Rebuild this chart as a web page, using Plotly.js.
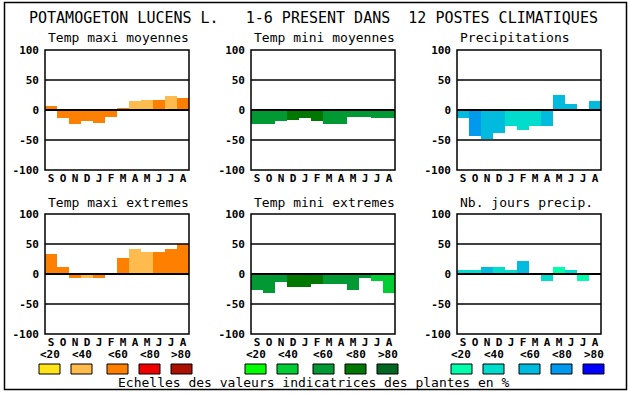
<!DOCTYPE html>
<html>
<head>
<meta charset="utf-8">
<script src="https://cdn.plot.ly/plotly-3.0.1.min.js"></script>
<style>html,body{margin:0;padding:0;background:#fff;}#chart{width:630px;height:394px;}</style>
</head>
<body>
<div id="chart"></div>
<script>
// ---- Data ----
const months = ["S","O","N","D","J","F","M","A","M","J","J","A"];
const mainTitle = "POTAMOGETON LUCENS L.\u00A0\u00A0\u00A01-6 PRESENT DANS\u00A0\u00A012 POSTES CLIMATIQUES";
const panelTitles = ["Temp maxi moyennes","Temp mini moyennes","Precipitations",
                     "Temp maxi extremes","Temp mini extremes","Nb. jours precip."];
const yTickVals = [-100,-50,0,50,100];
const yTickText = ["-100","-50","0","50","100"];
const classLabels = ["<20","<40","<60","<80",">80"];
const footer = "Echelles des valeurs indicatrices des plantes en %";

const tempMaxiMoy = [7,-13,-23,-18,-21,-11,3,15,17,17,23,20];
const tempMaxiMoyClass = [2,2,2,2,2,2,2,1,1,2,1,2];
const tempMiniMoy = [-23,-24,-18,-16,-13,-18,-24,-23,-11,-11,-13,-14];
const tempMiniMoyClass = [2,2,2,3,3,3,2,2,2,2,2,2];
const precip = [-14,-44,-49,-38,-26,-34,-26,-26,25,10,0,15];
const precipClass = [2,3,2,2,1,1,1,2,2,2,2,2];
const tempMaxiExt = [34,12,-6,-6,-7,2,26,42,37,36,42,50];
const tempMaxiExtClass = [2,2,2,1,2,2,2,1,1,2,2,2];
const tempMiniExt = [-27,-31,-14,-22,-22,-17,-16,-17,-26,-7,-12,-31];
const tempMiniExtClass = [2,2,2,3,3,3,2,2,2,2,1,1];
const nbJours = [7,7,11,12,7,21,2,-11,12,7,-12,-2];
const nbJoursClass = [1,1,2,1,1,2,1,1,0,1,0,1];

// ---- Styles ----
const orangePal = ["#FFE41A","#FFBB4D","#FF8000","#EE0000","#AA1100"];
const greenPal  = ["#00FF00","#00CC33","#009933","#007700","#006622"];
const bluePal   = ["#00FFAA","#00DDCC","#00BBDD","#0099EE","#0000FF"];
const MONO = "DejaVu Sans Mono, Liberation Mono, monospace";
const W = 630, H = 394;
const X = px => px / W;
const Y = py => 1 - py / H;

const panels = [
  {vals: tempMaxiMoy, cls: tempMaxiMoyClass, pal: orangePal},
  {vals: tempMiniMoy, cls: tempMiniMoyClass, pal: greenPal},
  {vals: precip, cls: precipClass, pal: bluePal},
  {vals: tempMaxiExt, cls: tempMaxiExtClass, pal: orangePal},
  {vals: tempMiniExt, cls: tempMiniExtClass, pal: greenPal},
  {vals: nbJours, cls: nbJoursClass, pal: bluePal}
];
const colLeft = [45, 251, 457];
const plotW = 144;
const rowTop = [50, 214];
const plotH = 120;

const traces = [];
const layout = {
  width: W, height: H,
  margin: {l:0, r:0, t:0, b:0},
  paper_bgcolor: "#fff", plot_bgcolor: "#fff",
  showlegend: false, hovermode: false,
  bargap: 0,
  font: {family: MONO, color: "#000"},
  shapes: [], annotations: []
};

const xIdx = months.map((m, i) => i);

panels.forEach((p, k) => {
  const s = k === 0 ? "" : String(k + 1);
  const col = k % 3, row = Math.floor(k / 3);
  const left = colLeft[col], top = rowTop[row];
  traces.push({
    type: "bar", x: xIdx, y: p.vals,
    xaxis: "x" + s, yaxis: "y" + s,
    width: 1,
    marker: {color: p.cls.map(c => p.pal[c]), line: {width: 0}},
    hoverinfo: "skip"
  });
  layout["xaxis" + s] = {
    domain: [X(left), X(left + plotW)],
    anchor: "y" + s,
    range: [-0.5, 11.5], fixedrange: true,
    tickvals: xIdx, ticktext: months,
    ticks: "", showgrid: false, zeroline: false, showline: false,
    tickfont: {family: MONO, size: 11, weight: "bold", color: "#000"},
    ticklabelstandoff: 0
  };
  layout["yaxis" + s] = {
    domain: [Y(top + plotH), Y(top)],
    anchor: "x" + s,
    range: [-100, 100], fixedrange: true,
    tickvals: yTickVals, ticktext: yTickText,
    ticks: "", showgrid: false, zeroline: false, showline: false,
    tickfont: {family: MONO, size: 11, weight: "bold", color: "#000"},
    ticklabelstandoff: 5
  };
  [50, 0, -50].forEach(v => {
    layout.shapes.push({type: "line", xref: "x" + s + " domain", yref: "y" + s,
      x0: 0, x1: 1, y0: v, y1: v, layer: "above",
      line: {color: "#000", width: v === 0 ? 2 : 1.5}});
  });
  layout.shapes.push({type: "rect", xref: "x" + s + " domain", yref: "y" + s + " domain",
    x0: 0, x1: 1, y0: 0, y1: 1, layer: "above", line: {color: "#000", width: 1.5}});
  layout.annotations.push({
    text: panelTitles[k], xref: "paper", yref: "paper",
    x: X(left + 1), y: Y(top - 12), xanchor: "left", yanchor: "middle",
    showarrow: false, font: {family: MONO, size: 13, color: "#000"}
  });
});

// main title
layout.annotations.push({
  text: mainTitle, xref: "paper", yref: "paper",
  x: X(313), y: Y(18), xanchor: "center", yanchor: "middle",
  showarrow: false, font: {family: MONO, size: 15, color: "#000"}
});
// footer
layout.annotations.push({
  text: footer, xref: "paper", yref: "paper",
  x: X(314), y: Y(382), xanchor: "center", yanchor: "middle",
  showarrow: false, font: {family: MONO, size: 13, color: "#000"}
});
// colour scales
const swOff = [0, 32, 68, 100, 132];
const pals = [orangePal, greenPal, bluePal];
pals.forEach((pal, g) => {
  const gx = colLeft[g] - 6;
  pal.forEach((c, i) => {
    const x0 = gx + swOff[i];
    layout.shapes.push({type: "rect", xref: "paper", yref: "paper",
      x0: X(x0), x1: X(x0 + 21), y0: Y(374), y1: Y(364),
      fillcolor: c, line: {color: "#000", width: 1}});
    layout.annotations.push({text: classLabels[i], xref: "paper", yref: "paper",
      x: X(x0 + 10.5), y: Y(354.5), xanchor: "center", yanchor: "middle",
      showarrow: false, font: {family: MONO, size: 11, weight: "bold", color: "#000"}});
  });
});
// outer frame
layout.shapes.push({type: "rect", xref: "paper", yref: "paper",
  x0: X(4.5), x1: X(626.5), y0: Y(389.5), y1: Y(2.5),
  line: {color: "#000", width: 1.5}});

Plotly.newPlot("chart", traces, layout, {staticPlot: true, displayModeBar: false});
</script>
</body>
</html>
